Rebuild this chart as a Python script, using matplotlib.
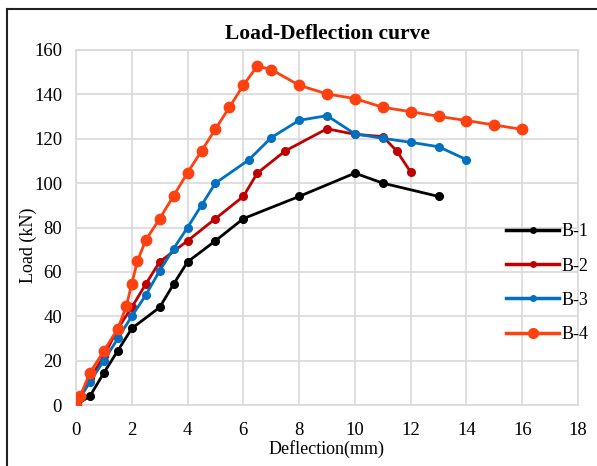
import matplotlib
matplotlib.use("Agg")
import matplotlib.pyplot as plt
from matplotlib.lines import Line2D

plt.rcParams['font.family'] = ['Liberation Serif', 'DejaVu Serif']

b1_x = [0, 0.5, 1, 1.5, 2, 3, 3.5, 4, 5, 6, 8, 10, 11, 13]
b1_y = [0, 4, 14.5, 24.5, 34.5, 44, 54.5, 64.5, 74, 84, 94, 104.5, 100, 94]

b2_x = [0, 0.5, 1, 1.5, 2, 2.5, 3, 4, 5, 6, 6.5, 7.5, 9, 10, 11, 11.5, 12]
b2_y = [0, 12, 22, 34.5, 44, 54.5, 64.5, 74, 84, 94, 104.5, 114.5, 124.5, 122, 121, 114.5, 105]

b3_x = [0, 0.5, 1, 1.5, 2, 2.5, 3, 3.5, 4, 4.5, 5, 6.2, 7, 8, 9, 10, 11, 12, 13, 14]
b3_y = [0, 10.5, 20, 30, 40, 49.5, 60.5, 70.5, 80, 90, 100, 110.5, 120.5, 128.3, 130.4, 122.2, 120.2, 118.4, 116.4, 110.6]

b4_x = [0, 0.15, 0.5, 1, 1.5, 1.8, 2, 2.2, 2.5, 3, 3.5, 4, 4.5, 5, 5.5, 6, 6.5, 7, 8, 9, 10, 11, 12, 13, 14, 15, 16]
b4_y = [0, 4, 14.5, 24.4, 34.4, 44.4, 54.6, 64.8, 74.3, 84, 94.3, 104.7, 114.5, 124.4, 134.2, 144.1, 152.8, 151.2, 144.1, 140.2, 138.1, 134.2, 132.2, 130.1, 128.2, 126.2, 124.2]

labels = ['B-1', 'B-2', 'B-3', 'B-4']
colors = ['#000000', '#C00000', '#0070C0', '#FF4010']

fig = plt.figure(figsize=(5.97, 4.66), dpi=100)
ax = fig.add_axes([76/597, 1-405/466, (578-76)/597, (405-50)/466])

series = [(b1_x, b1_y), (b2_x, b2_y), (b3_x, b3_y), (b4_x, b4_y)]
for i, ((xs, ys), lab, c) in enumerate(zip(series, labels, colors)):
    ms = 7.5 if i == 3 else 5.5
    ax.plot(xs, ys, color=c, lw=2, marker='o', ms=ms, label=lab, zorder=3 + i)

ax.set_xlim(0, 18)
ax.set_ylim(0, 160)
ax.set_xticks(range(0, 19, 2))
ax.set_yticks(range(0, 161, 20))
ax.grid(True, color='#d9d9d9', lw=1.2)
ax.set_axisbelow(True)
for s in ax.spines.values():
    s.set_color('#d9d9d9')
    s.set_linewidth(1.2)
ax.tick_params(length=0, labelsize=13.5)
ax.tick_params(axis='x', pad=12)
ax.tick_params(axis='y', pad=10)

ax.set_title('Load-Deflection curve', fontsize=15.5, fontweight='bold', pad=8)
ax.set_xlabel('Deflection(mm)', fontsize=13, labelpad=1)
ax.set_ylabel('Load (kN)', fontsize=13)
ax.yaxis.set_label_coords(-0.078, 0.45)

leg_handles = [Line2D([], [], color=c, lw=2.5, marker='o', ms=(7 if i == 3 else 4))
               for i, c in enumerate(colors)]
ax.legend(leg_handles, labels, loc='upper left', bbox_to_anchor=(0.843, 0.532),
          frameon=False, fontsize=13, handlelength=2.9, labelspacing=0.95,
          handletextpad=0.15, borderaxespad=0)

fig.add_artist(Line2D([7/597, 7/597], [0, 1 - 9/466], transform=fig.transFigure,
                      color='#222222', lw=1.5))
fig.add_artist(Line2D([7/597, 1], [1 - 9/466, 1 - 9/466], transform=fig.transFigure,
                      color='#222222', lw=1.5))

fig.savefig('out.png', dpi=100)
